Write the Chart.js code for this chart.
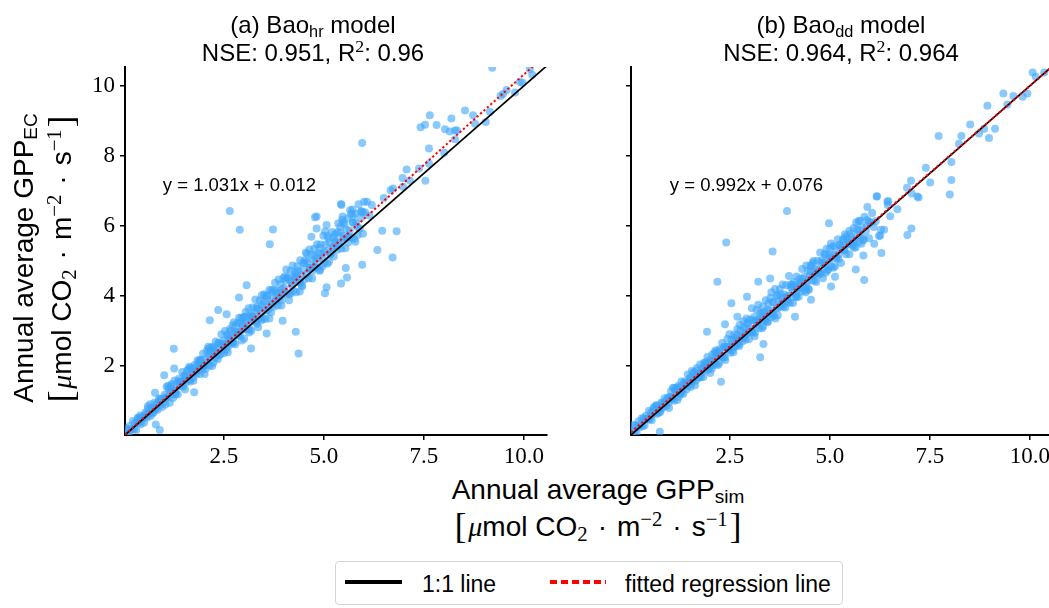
<!DOCTYPE html>
<html>
<head>
<meta charset="utf-8">
<script src="https://cdn.jsdelivr.net/npm/chart.js@4.4.1/dist/chart.umd.min.js"></script>
<style>
  body { margin: 0; background: #fff; }
  #fig { position: relative; width: 1049px; height: 608px; overflow: hidden; background: #fff;
         font-family: 'Liberation Sans', Arial, sans-serif; color: #000; }
  #fig canvas { position: absolute; }
  .txt { position: absolute; white-space: nowrap; line-height: 1; transform: translateX(-50%); }
  .title { font-size: 24px; }
  .xlab { font-size: 28px; height: 28px; }
  .ylab { font-size: 28px; height: 28px; transform: translate(-50%, -50%) rotate(-90deg); }
  .sb { font-size: 0.68em; vertical-align: -0.22em; line-height: 0; }
  .sbm { font-family: 'Liberation Serif', serif; font-size: 0.74em; vertical-align: -0.25em; line-height: 0; }
  .spm { font-family: 'Liberation Serif', serif; font-size: 0.74em; vertical-align: 0.5em; line-height: 0; }
  .brk { font-family: 'Liberation Serif', serif; font-size: 1.25em; line-height: 0; vertical-align: -0.05em; margin: 0 2px; }
  .mu { font-family: 'Liberation Serif', serif; font-style: italic; }
  .dot { margin: 0 10px; }
  #legend { position: absolute; left: 335px; top: 561px; width: 508px; height: 44px; box-sizing: border-box;
            border: 1px solid #d4d4d4; border-radius: 4px; }
  #legend div { position: absolute; }
  .lt { font-size: 23px; line-height: 1; top: 11px; white-space: nowrap; }
</style>
</head>
<body>
<div id="fig">
  <canvas id="hrChart" width="560" height="470" style="left:0;top:0"></canvas>
  <canvas id="ddChart" width="500" height="470" style="left:566px;top:0"></canvas>

  <div class="txt title" style="left:313px;top:13px">(a) Bao<span class="sb">hr</span> model</div>
  <div class="txt title" style="left:313px;top:41px">NSE: 0.951, R<span class="spm">2</span>: 0.96</div>
  <div class="txt title" style="left:841px;top:13px">(b) Bao<span class="sb">dd</span> model</div>
  <div class="txt title" style="left:841px;top:41px">NSE: 0.964, R<span class="spm">2</span>: 0.964</div>

  <div class="txt ylab" style="left:24px;top:258px">Annual average GPP<span class="sb">EC</span></div>
  <div class="txt ylab" style="left:62px;top:259px"><span class="brk">[</span><span class="mu">μ</span>mol CO<span class="sbm">2</span><span class="dot">·</span>m<span class="spm">−2</span><span class="dot">·</span>s<span class="spm">−1</span><span class="brk">]</span></div>

  <div class="txt xlab" style="left:598px;top:476px">Annual average GPP<span class="sb">sim</span></div>
  <div class="txt xlab" style="left:598px;top:513px"><span class="brk">[</span><span class="mu">μ</span>mol CO<span class="sbm">2</span><span class="dot">·</span>m<span class="spm">−2</span><span class="dot">·</span>s<span class="spm">−1</span><span class="brk">]</span></div>

  <div id="legend">
    <div style="left:9px;top:18px;width:57px;height:4px;background:#000"></div>
    <div class="lt" style="left:86px">1:1 line</div>
    <div style="left:214px;top:18px;width:56px;height:4px;background:repeating-linear-gradient(to right,#ff0000 0 7px,transparent 7px 11px)"></div>
    <div class="lt" style="left:289px">fitted regression line</div>
  </div>
</div>

<script>
// axis limits (shared by both panels)
var axisMin = 0.03;
var xMax = 10.58;
var yMax = 10.54;

var xTickValues = [2.5, 5.0, 7.5, 10.0];
var xTickLabels = ['2.5', '5.0', '7.5', '10.0'];
var yTickValues = [2, 4, 6, 8, 10];
var yTickLabels = ['2', '4', '6', '8', '10'];

// fitted lines: [slope, intercept]
var hrFit = [1.031, 0.012];
var ddFit = [0.992, 0.076];
var hrEquation = 'y = 1.031x + 0.012';
var ddEquation = 'y = 0.992x + 0.076';

// (a) Bao_hr : [GPP_sim, GPP_EC]
var hrPoints = [
  [0.05,0.22],[0.08,0.06],[0.1,0.17],[0.13,0.07],[0.15,0.29],[0.18,0.21],[0.2,0.18],[0.23,0.43],[0.26,0.2],[0.28,0.38],
  [0.31,0.17],[0.33,0.39],[0.36,0.51],[0.38,0.37],[0.41,0.59],[0.43,0.34],[0.46,0.55],[0.49,0.51],[0.51,0.39],[0.54,0.67],
  [0.56,0.64],[0.59,0.54],[0.61,0.78],[0.64,0.64],[0.67,0.57],[0.69,0.8],[0.72,0.76],[0.74,0.67],[0.77,0.96],[0.8,0.77],
  [0.82,0.9],[0.85,0.75],[0.88,1.07],[0.9,0.89],[0.93,1.05],[0.96,0.83],
  [1.02,1.18],[1.04,0.9],[1.07,1.41],[1.09,1.1],[1.12,1.34],[1.15,0.95],[1.17,1.28],[1.2,1.49],[1.22,1.18],[1.25,1.3],
  [1.27,1.59],[1.3,1.2],[1.33,1.47],[1.35,1.19],[1.38,1.64],[1.4,1.48],[1.43,1.42],[1.46,1.83],[1.48,1.41],[1.51,1.72],
  [1.53,1.33],[1.56,1.69],[1.58,1.86],[1.61,1.62],[1.64,1.98],[1.66,1.56],[1.69,1.89],[1.71,1.79],[1.74,1.58],[1.77,2.03],
  [1.79,1.96],[1.82,1.78],[1.84,2.16],[1.87,1.92],[1.9,1.77],[1.92,2.15],[1.94,2.05],[1.96,1.89],[1.98,2.35],[2.0,2.0],
  [2.02,1.77],[2.04,2.21],[2.07,2.43],[2.09,2.11],[2.11,2.55],[2.14,2.01],[2.16,2.41],[2.18,2.28],[2.21,2.0],[2.23,2.56],
  [2.25,2.46],[2.28,2.23],[2.3,2.7],[2.32,2.38],[2.35,2.19],[2.37,2.66],[2.39,2.53],[2.42,2.33],[2.44,2.91],[2.46,2.45],
  [2.49,2.73],[2.51,2.37],[2.53,3.0],[2.56,2.61],[2.58,2.9],[2.6,2.39],[2.63,2.8],[2.65,3.05],[2.67,2.65],[2.7,2.79],
  [2.72,3.16],[2.74,2.64],[2.77,2.98],[2.79,2.62],[2.81,3.17],[2.84,2.98],[2.86,2.88],[2.88,3.38],[2.91,2.86],[2.93,3.22],
  [2.95,2.73],[2.97,3.17],[2.99,3.38],
  [3.01,2.78],[3.03,3.25],[3.05,3.54],[3.08,3.07],[3.1,3.23],[3.12,3.65],[3.15,3.05],[3.17,3.44],[3.19,3.01],[3.22,3.67],
  [3.24,3.42],[3.26,3.3],[3.29,3.9],[3.31,3.26],[3.33,3.69],[3.36,3.11],[3.38,3.63],[3.4,3.87],[3.43,3.5],[3.45,4.02],
  [3.47,3.36],[3.5,3.84],[3.52,3.68],[3.54,3.34],[3.57,4.0],[3.59,3.89],[3.61,3.6],[3.64,4.17],[3.66,3.78],[3.68,3.53],
  [3.71,4.1],[3.73,3.95],[3.75,3.69],[3.78,4.38],[3.8,3.84],[3.82,4.15],[3.85,3.73],[3.87,4.47],[3.89,4.0],[3.92,4.34],
  [3.94,3.73],[3.96,4.2],[3.99,4.51],
  [4.01,4.23],[4.03,4.1],[4.06,4.76],[4.08,4.05],[4.1,4.52],[4.13,3.88],[4.15,4.45],[4.17,4.72],[4.2,4.3],[4.22,4.87],
  [4.24,4.14],[4.27,4.67],[4.29,4.49],[4.31,4.11],[4.34,4.85],[4.36,4.72],[4.38,4.39],[4.41,5.02],[4.43,4.59],[4.45,4.31],
  [4.48,4.94],[4.5,4.76],[4.52,4.48],[4.55,5.24],[4.57,4.63],[4.59,4.98],[4.62,4.51],[4.64,5.33],[4.66,4.8],[4.69,5.18],
  [4.71,4.5],[4.73,5.02],[4.76,5.35],[4.78,4.82],[4.8,4.99],[4.83,5.48],[4.85,4.8],[4.87,5.22],[4.9,4.75],[4.92,5.47],
  [4.94,5.19],[4.97,5.07],[4.99,5.72],
  [5.01,4.94],[5.04,5.47],[5.06,5.29],[5.09,4.92],[5.12,5.65],[5.14,5.52],[5.17,5.2],[5.2,5.83],[5.22,5.4],[5.25,5.13],
  [5.28,5.76],[5.3,5.58],[5.33,5.32],[5.36,6.07],[5.38,5.47],[5.41,5.82],[5.44,5.35],[5.46,6.17],[5.49,5.65],[5.52,6.04],
  [5.54,5.36],[5.57,5.89],[5.6,6.22],[5.62,5.69],[5.65,5.87],[5.68,6.35],[5.7,5.67],[5.73,6.1],[5.76,5.63],[5.78,6.35],
  [5.81,6.08],[5.84,5.97],[5.87,6.62],[5.9,5.93],[5.94,6.42],[5.98,5.78],[6.03,6.39],[6.08,6.69],[6.14,6.3],[6.2,6.6],
  [1.05,1.08],[1.17,1.42],[1.29,1.29],[1.41,1.52],[1.53,1.72],[1.65,1.61],[1.77,1.85],[1.89,2.17],[2.01,2.03],[2.13,2.31],
  [2.25,2.51],[2.37,2.3],[2.49,2.61],[2.61,2.84],[2.73,2.7],[2.85,3.23],[2.97,3.05],[3.09,3.43],[3.21,3.41],[3.33,3.21],
  [3.45,3.74],[3.57,3.58],[3.69,4.17],[3.81,3.89],[3.93,4.11],[4.05,4.44],[4.17,4.08],[4.29,4.55],[4.41,4.38],[4.53,5.02],
  [4.65,4.81],[4.77,4.82],[4.89,5.37],[5.01,5.26],[5.13,4.98],[5.25,5.68],[5.37,5.51],[5.49,6.1],[5.61,5.53],[5.73,6.1],
  [0.35,0.52],[0.47,0.51],[0.6,0.85],[0.72,0.65],[0.86,0.97],[0.98,0.96],[1.11,1.44],[1.23,1.09],[1.36,1.56],[1.49,1.58],
  [1.61,1.91],[1.74,1.67],[1.86,2.06],[1.99,1.99],[2.12,2.5],[2.24,2.09],[2.37,2.66],[2.5,2.64],[2.62,2.57],[2.75,3.25],
  [2.88,2.97],[3.0,3.4],[3.13,2.96],[3.26,3.51],[3.38,3.36],[3.51,4.05],[3.64,3.36],[3.76,4.18],[3.89,3.94],[4.02,4.56],
  [4.14,4.04],[4.27,4.54],[4.4,4.13],[4.52,4.94],[4.65,4.79],[4.78,5.16],[4.9,4.72],[5.03,5.84],[5.16,5.19],[5.28,5.53],
  [5.41,5.98],[5.54,5.64],[5.66,6.45],[5.79,5.55],[5.92,6.23],
  [0.41,0.49],[0.53,0.56],[0.66,0.91],[0.78,0.75],[0.92,1.06],[1.04,1.11],[1.17,1.35],[1.29,1.21],[1.42,1.56],[1.55,1.53],
  [1.67,1.95],[1.8,1.85],[1.92,2.17],[2.05,1.92],[2.18,2.52],[2.3,2.32],[2.43,2.62],[2.56,2.47],[2.68,3.0],[2.81,2.91],
  [2.94,3.38],[3.06,3.05],[3.19,3.35],[3.32,3.64],[3.44,3.31],[3.57,4.01],[3.7,3.74],[3.82,4.09],[3.95,3.89],[4.08,4.53],
  [4.2,4.37],[4.33,4.67],[4.46,4.27],[4.58,5.2],[4.71,4.71],[4.84,5.09],[4.96,4.84],[5.09,5.71],[5.22,5.34],[5.34,5.83],
  [5.47,5.72],[5.6,5.67],[5.72,6.47],[5.85,5.74],[5.98,6.38],
  [9.21,10.52],[10.15,10.48],[10.21,10.32],[9.97,10.09],[9.9,10.11],[9.78,9.81],[9.57,9.88],[9.42,9.71],[9.48,9.77],[9.15,9.26],
  [9.05,8.97],[8.73,9.16],[8.78,8.92],[8.53,9.3],[8.19,9.07],[8.28,8.73],[8.15,8.7],[8.33,8.73],[8.28,8.48],[8.03,8.76],
  [7.82,8.88],[7.65,9.16],[7.53,8.89],[7.42,8.82],[5.96,8.37],[7.63,8.21],[8.01,8.09],[7.07,7.61],[7.38,7.64],[7.63,7.78],
  [7.54,7.29],[6.97,7.37],[7.15,7.3],[6.73,7.07],[6.67,7.02],[6.5,6.8],[6.01,6.69],[6.82,5.85],[6.46,5.86],[6.34,5.31],
  [6.72,5.1],[6.98,7.12],[2.65,6.43],[2.9,5.89],[3.73,5.9],[3.65,5.48],[4.3,2.98],[4.37,2.36],[1.25,2.49],[2.36,3.6],
  [2.15,3.31],[2.57,3.48],[2.88,3.96],[3.07,4.31],[1.26,1.93],[1.01,1.74],[0.9,0.17],[0.8,0.33],[0.78,1.24],[1.76,1.25],
  [3.18,2.5],[3.97,3.29],[5.58,4.53],[5.43,4.36],[5.96,4.89],[5.55,4.8],[4.82,6.27],[5.07,6.03],[4.69,5.69],[5.43,6.63],
  [5.93,6.41],[5.73,6.27],[5.47,6.27],[4.78,6.25],[5.44,6.6],[4.82,5.93],[5.03,4.08],[5.07,4.25],[3.57,2.93]
];

// (b) Bao_dd : [GPP_sim, GPP_EC]
var ddPoints = [
  [0.04,0.16],[0.07,0.06],[0.09,0.32],[0.12,0.15],[0.14,0.3],[0.17,0.08],[0.19,0.28],[0.22,0.42],[0.25,0.25],[0.27,0.32],
  [0.3,0.51],[0.32,0.28],[0.35,0.46],[0.37,0.3],[0.4,0.58],[0.42,0.49],[0.45,0.47],[0.48,0.72],[0.5,0.48],[0.53,0.67],
  [0.55,0.45],[0.58,0.68],[0.6,0.79],[0.63,0.66],[0.66,0.88],[0.68,0.63],[0.71,0.84],[0.73,0.79],[0.76,0.68],[0.79,0.96],
  [0.81,0.93],[0.84,0.83],[0.87,1.08],[0.89,0.93],[0.92,0.86],[0.95,1.1],
  [0.98,0.8],[1.01,1.12],[1.03,1.28],[1.06,1.06],[1.08,1.38],[1.11,1.01],[1.13,1.3],[1.16,1.22],[1.19,1.03],[1.21,1.43],
  [1.24,1.38],[1.26,1.21],[1.29,1.56],[1.32,1.35],[1.34,1.21],[1.37,1.56],[1.39,1.47],[1.42,1.34],[1.45,1.76],[1.47,1.44],
  [1.5,1.65],[1.52,1.4],[1.55,1.86],[1.58,1.59],[1.6,1.8],[1.63,1.45],[1.65,1.74],[1.68,1.94],[1.71,1.67],[1.73,1.77],
  [1.76,2.04],[1.78,1.68],[1.81,1.93],[1.84,1.69],[1.86,2.09],[1.89,1.96],[1.91,1.89],[1.94,2.26],[1.96,1.89],[1.99,2.16],
  [2.01,1.8],[2.04,2.13],[2.06,2.33],[2.09,2.03],[2.11,2.14],[2.14,2.44],[2.16,2.04],[2.19,2.31],[2.21,2.03],[2.24,2.48],
  [2.26,2.32],[2.29,2.26],[2.31,2.66],[2.34,2.25],[2.36,2.54],[2.39,2.17],[2.41,2.53],[2.44,2.77],[2.46,2.45],[2.49,2.91],
  [2.51,2.38],[2.54,2.75],[2.56,2.61],[2.59,2.39],[2.61,2.9],[2.64,2.8],[2.66,2.58],[2.69,3.06],[2.71,2.72],[2.74,2.57],
  [2.76,3.01],[2.79,2.87],[2.81,2.7],[2.84,3.28],[2.86,2.81],[2.88,3.06],[2.9,2.75],[2.92,3.36],[2.94,2.94],[2.96,3.23],
  [2.98,2.77],
  [3.0,3.07],[3.03,2.99],[3.05,3.65],[3.07,2.96],[3.1,3.39],[3.12,2.85],[3.14,3.29],[3.17,3.6],[3.19,3.17],[3.21,3.75],
  [3.24,3.08],[3.26,3.52],[3.28,3.33],[3.31,3.08],[3.33,3.7],[3.35,3.55],[3.38,3.29],[3.4,3.88],[3.42,3.43],[3.45,3.25],
  [3.47,3.78],[3.49,3.58],[3.52,3.39],[3.54,4.11],[3.56,3.5],[3.59,3.82],[3.61,3.43],[3.63,4.2],[3.66,3.65],[3.68,4.02],
  [3.7,3.45],[3.73,3.85],[3.75,4.2],[3.77,3.69],[3.8,3.82],[3.82,4.33],[3.84,3.69],[3.87,4.04],[3.89,3.67],[3.91,4.31],
  [3.94,4.0],[3.96,3.91],[3.98,4.57],
  [4.01,3.81],[4.03,4.24],[4.06,4.09],[4.08,3.8],[4.1,4.4],[4.13,4.29],[4.15,4.03],[4.17,4.56],[4.2,4.19],[4.22,3.98],
  [4.24,4.49],[4.27,4.34],[4.29,4.13],[4.31,4.77],[4.34,4.25],[4.36,4.54],[4.38,4.16],[4.41,4.87],[4.43,4.4],[4.45,4.72],
  [4.48,4.18],[4.5,4.59],[4.52,4.88],[4.55,4.44],[4.57,4.58],[4.59,5.0],[4.62,4.44],[4.64,4.77],[4.66,4.4],[4.69,5.01],
  [4.71,4.75],[4.73,4.66],[4.76,5.24],[4.78,4.63],[4.8,5.02],[4.83,4.51],[4.85,4.96],[4.87,5.21],[4.9,4.85],[4.92,5.35],
  [4.94,4.73],[4.97,5.17],[4.99,5.01],
  [5.01,5.37],[5.04,4.84],[5.06,5.18],[5.09,4.81],[5.12,5.4],[5.14,5.18],[5.17,5.09],[5.2,5.62],[5.22,5.06],[5.25,5.45],
  [5.28,4.94],[5.3,5.4],[5.33,5.63],[5.36,5.3],[5.38,5.76],[5.41,5.19],[5.44,5.62],[5.46,5.48],[5.49,5.19],[5.52,5.78],
  [5.54,5.68],[5.57,5.43],[5.6,5.94],[5.62,5.6],[5.65,5.39],[5.68,5.9],[5.7,5.75],[5.73,5.54],[5.76,6.15],[5.78,5.67],
  [5.81,5.96],[5.84,5.59],[5.87,6.26],[5.9,5.85],[5.94,6.17],[5.98,5.65],[6.02,6.09],[6.06,6.37],[6.1,5.97],[6.15,6.14],
  [1.05,1.07],[1.17,1.38],[1.29,1.27],[1.41,1.49],[1.53,1.68],[1.65,1.58],[1.77,1.81],[1.89,2.1],[2.01,1.98],[2.13,2.24],
  [2.25,2.43],[2.37,2.24],[2.49,2.54],[2.61,2.75],[2.73,2.63],[2.85,3.11],[2.97,2.96],[3.09,3.31],[3.21,3.3],[3.33,3.13],
  [3.45,3.61],[3.57,3.48],[3.69,4.01],[3.81,3.77],[3.93,3.98],[4.05,4.28],[4.17,3.97],[4.29,4.4],[4.41,4.26],[4.53,4.84],
  [4.65,4.66],[4.77,4.68],[4.89,5.17],[5.01,5.09],[5.13,4.85],[5.25,5.47],[5.37,5.33],[5.49,5.86],[5.61,5.38],[5.73,5.88],
  [0.35,0.51],[0.47,0.51],[0.6,0.82],[0.72,0.67],[0.86,0.95],[0.98,0.97],[1.11,1.37],[1.23,1.12],[1.36,1.5],[1.49,1.55],
  [1.61,1.82],[1.74,1.67],[1.86,1.99],[1.99,1.97],[2.12,2.38],[2.24,2.09],[2.37,2.55],[2.5,2.56],[2.62,2.54],[2.75,3.18],
  [2.88,2.89],[3.0,3.32],[3.13,2.95],[3.26,3.41],[3.38,3.3],[3.51,3.94],[3.64,3.36],[3.76,4.06],[3.89,3.85],[4.02,4.33],
  [4.14,3.98],[4.27,4.37],[4.4,4.11],[4.52,4.72],[4.65,4.65],[4.78,4.95],[4.9,4.67],[5.03,5.5],[5.16,5.07],[5.28,5.34],
  [5.41,5.7],[5.54,5.48],[5.66,6.1],[5.79,5.49],[5.92,6.0],
  [0.41,0.49],[0.53,0.57],[0.66,0.87],[0.78,0.76],[0.92,1.04],[1.04,1.1],[1.17,1.3],[1.29,1.22],[1.42,1.52],[1.55,1.52],
  [1.67,1.87],[1.8,1.82],[1.92,2.08],[2.05,1.92],[2.18,2.41],[2.3,2.28],[2.43,2.54],[2.56,2.45],[2.68,2.88],[2.81,2.83],
  [2.94,3.22],[3.06,2.99],[3.19,3.24],[3.32,3.49],[3.44,3.27],[3.57,3.83],[3.7,3.65],[3.82,3.94],[3.95,3.82],[4.08,4.32],
  [4.2,4.23],[4.33,4.49],[4.46,4.21],[4.58,4.94],[4.71,4.6],[4.84,4.92],[4.96,4.76],[5.09,5.43],[5.22,5.19],[5.34,5.58],
  [5.47,5.52],[5.6,5.52],[5.72,6.14],[5.85,5.63],[5.98,6.13],
  [6.18,6.85],[6.46,6.71],[6.51,6.28],[6.29,5.23],[5.84,5.16],[6.11,5.49],[6.26,5.73],[5.94,6.54],[6.45,6.6],[6.28,5.89],
  [6.23,5.71],[5.86,4.46],[5.65,4.76],[6.44,6.69],[6.69,6.48],[6.94,5.74],[7.04,5.93],[7.03,7.29],[6.93,7.09],[7.22,6.81],
  [7.4,7.66],[7.51,7.24],[7.19,6.84],[8.04,7.83],[8.04,7.31],[8.0,6.9],[7.72,8.57],[8.23,8.35],[8.29,8.57],[8.51,8.9],
  [8.73,8.64],[8.98,8.51],[9.13,8.78],[8.86,8.78],[8.94,9.43],[9.34,9.78],[9.44,9.47],[9.59,9.71],[9.82,9.69],[9.94,9.78],
  [10.07,10.38],[10.15,10.26],[10.36,10.38],[7.05,6.93],[6.36,5.89],[4.98,6.08],[3.93,6.43],[2.41,5.53],[3.57,5.27],[2.19,4.41],
  [2.54,3.79],[3.26,2.25],[2.28,1.55],[1.93,2.98],[5.03,4.27],[4.53,3.89],[4.13,3.41],[0.75,0.12],[3.34,2.63],[3.21,4.41],
  [3.51,4.5],[2.69,3.41],[2.93,3.98],[5.13,4.55],[2.38,3.19],[6.17,6.84]
];

function toXY(points) {
  return points.map(function(p) { return {x: p[0], y: p[1]}; });
}

function lineData(slope, intercept) {
  return [axisMin, xMax].map(function(x) { return {x: x, y: slope * x + intercept}; });
}

// writes the regression equation inside the panel
var equationPlugin = {
  id: 'equation',
  afterDatasetsDraw: function(chart, args, opts) {
    var ctx = chart.ctx;
    ctx.save();
    ctx.font = "18.5px 'Liberation Sans', Arial, sans-serif";
    ctx.fillStyle = '#000';
    ctx.textBaseline = 'alphabetic';
    ctx.fillText(opts.text, chart.scales.x.getPixelForValue(opts.x), chart.scales.y.getPixelForValue(opts.y));
    ctx.restore();
  }
};

function makeChart(id, points, fit, equation, eqX, showYLabels, yAxisWidth) {
  var ctx = document.getElementById(id).getContext('2d');
  return new Chart(ctx, {
    type: 'scatter',
    data: {
      datasets: [
        { data: lineData(fit[0], fit[1]), showLine: true, borderColor: '#ff0000', borderWidth: 2,
          borderDash: [2.2, 2.4], pointRadius: 0, order: 0, clip: 0 },
        { data: lineData(1, 0), showLine: true, borderColor: '#000000', borderWidth: 1.7,
          pointRadius: 0, order: 1, clip: 0 },
        { data: toXY(points), pointRadius: 4, pointHoverRadius: 4, borderWidth: 0,
          backgroundColor: 'rgba(60,165,250,0.6)', order: 2, clip: 0 }
      ]
    },
    options: {
      responsive: false,
      animation: false,
      events: [],
      layout: { padding: { top: 67, right: 13, left: 0, bottom: 0 } },
      plugins: {
        legend: { display: false },
        tooltip: { enabled: false },
        equation: { text: equation, x: eqX, y: 7.0 }
      },
      scales: {
        x: {
          type: 'linear', min: axisMin, max: xMax,
          afterBuildTicks: function(scale) { scale.ticks = xTickValues.map(function(v) { return {value: v}; }); },
          afterFit: function(scale) { scale.height = 35; },
          ticks: {
            padding: 3, color: '#000', maxRotation: 0, autoSkip: false,
            font: { family: "'Liberation Serif', serif", size: 23 },
            callback: function(v, i) { return xTickLabels[i]; }
          },
          grid: { drawOnChartArea: false, drawTicks: true, tickLength: 5, color: '#000', lineWidth: 1.5 },
          border: { display: true, color: '#000', width: 2 }
        },
        y: {
          type: 'linear', min: axisMin, max: yMax,
          afterBuildTicks: function(scale) { scale.ticks = yTickValues.map(function(v) { return {value: v}; }); },
          afterFit: function(scale) { scale.width = yAxisWidth; },
          ticks: {
            padding: 5, color: '#000', autoSkip: false,
            font: { family: "'Liberation Serif', serif", size: 23 },
            callback: function(v, i) { return showYLabels ? yTickLabels[i] : ''; }
          },
          grid: { drawOnChartArea: false, drawTicks: true, tickLength: 5, color: '#000', lineWidth: 1.5 },
          border: { display: true, color: '#000', width: 2 }
        }
      }
    },
    plugins: [equationPlugin]
  });
}

makeChart('hrChart', hrPoints, hrFit, hrEquation, 0.975, true, 125);
makeChart('ddChart', ddPoints, ddFit, ddEquation, 1.0, false, 65);
</script>
</body>
</html>
